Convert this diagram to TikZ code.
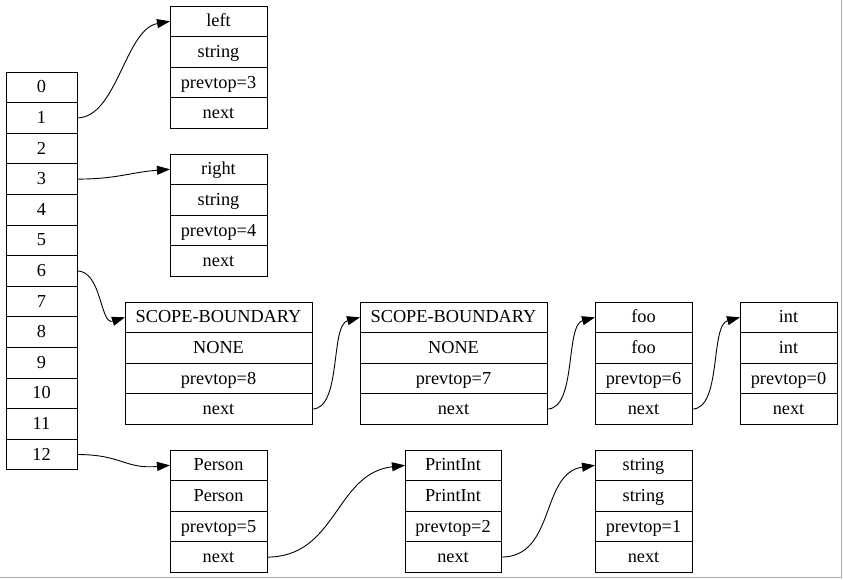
\documentclass[tikz,border=0pt]{standalone}
\usepackage{fontspec}
\setmainfont{Liberation Serif}
\usetikzlibrary{arrows.meta}
\tikzset{
  fld/.style={draw, line width=0.9pt, minimum height=30.6pt, inner sep=0pt, outer sep=0pt,
    text height=12pt, text depth=0.8pt, font=\fontsize{18.3}{20}\selectfont},
  edge/.style={line width=0.9pt, -{Triangle[length=13pt,width=9pt]}},
  frame/.style={draw=black!33, line width=1pt}
}
\newcommand\mkrecord[8]{%
  \node[fld, minimum width=#4pt, anchor=north west] (#1-1) at (#2pt,-#3pt) {#5};
  \node[fld, minimum width=#4pt, anchor=north] (#1-2) at (#1-1.south) {#6};
  \node[fld, minimum width=#4pt, anchor=north] (#1-3) at (#1-2.south) {#7};
  \node[fld, minimum width=#4pt, anchor=north] (#1-4) at (#1-3.south) {#8};
}
\begin{document}
\begin{tikzpicture}[x=1pt,y=1pt]
\useasboundingbox (0,0) rectangle (843,-579);
\coordinate (fr1) at (841.5,0);
\coordinate (fr2) at (841.5,-577.5);
\coordinate (fr3) at (0,-577.5);
\draw[frame] (fr1) -- (fr2) -- (fr3);
% array
\node[fld, minimum width=71pt, anchor=north west] (a0) at (6,-72) {0};
\foreach \i [remember=\i as \j (initially 0)] in {1,...,12} {
  \node[fld, minimum width=71pt, anchor=north] (a\i) at (a\j.south) {\i};
}
% records
\mkrecord{left}{170}{6}{97}{left}{string}{prevtop=3}{next}
\mkrecord{right}{170}{154}{97}{right}{string}{prevtop=4}{next}
\mkrecord{sba}{125}{302}{187}{SCOPE-BOUNDARY}{NONE}{prevtop=8}{next}
\mkrecord{sbb}{360}{302}{187}{SCOPE-BOUNDARY}{NONE}{prevtop=7}{next}
\mkrecord{foo}{595}{302}{97}{foo}{foo}{prevtop=6}{next}
\mkrecord{int}{740}{302}{97}{int}{int}{prevtop=0}{next}
\mkrecord{person}{170}{450}{97}{Person}{Person}{prevtop=5}{next}
\mkrecord{printint}{405}{450}{96}{PrintInt}{PrintInt}{prevtop=2}{next}
\mkrecord{string}{595}{450}{97}{string}{string}{prevtop=1}{next}
% edges
\draw[edge] (a1.east) .. controls +(40,0) and +(-45,-8) .. (left-1.west);
\draw[edge] (a3.east) .. controls +(40,0) and +(-40,-3) .. (right-1.west);
\draw[edge] (a6.east) .. controls +(25,0) and +(-25,-8) .. (sba-1.west);
\draw[edge] (sba-4.east) .. controls +(30,0) and +(-30,-8) .. (sbb-1.west);
\draw[edge] (sbb-4.east) .. controls +(30,0) and +(-30,-8) .. (foo-1.west);
\draw[edge] (foo-4.east) .. controls +(30,0) and +(-30,-8) .. (int-1.west);
\draw[edge] (a12.east) .. controls +(45,0) and +(-45,-4) .. (person-1.west);
\draw[edge] (person-4.east) .. controls +(70,0) and +(-70,-8) .. (printint-1.west);
\draw[edge] (printint-4.east) .. controls +(55,0) and +(-55,-8) .. (string-1.west);
\end{tikzpicture}
\end{document}
